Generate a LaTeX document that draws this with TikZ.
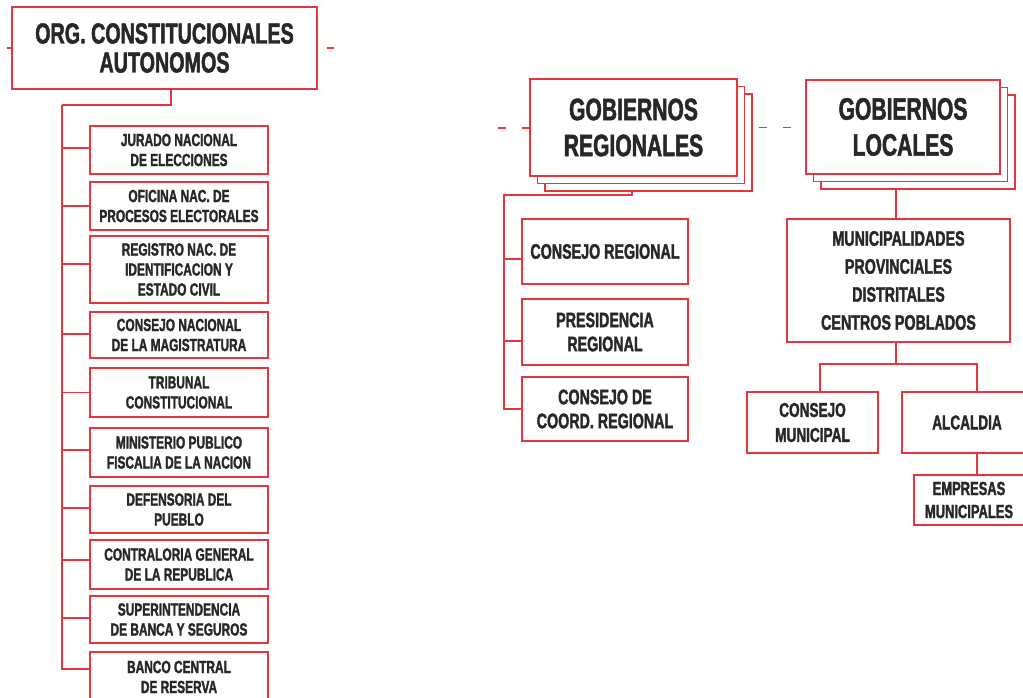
\documentclass[tikz,border=0pt]{standalone}
\usepackage{fontspec}
\newfontfamily\cond{Liberation Sans}[FakeStretch=0.68,FakeBold=1.6]
\usetikzlibrary{calc,shadows,backgrounds}
\definecolor{ored}{RGB}{232,52,60}
\definecolor{otxt}{RGB}{40,38,38}
\begin{document}
\begin{tikzpicture}[x=1pt,y=-1pt,line width=1.5pt,
  box/.style={draw=ored,fill=white,inner sep=0pt,align=center,text=otxt},
  ln/.style={draw=ored,line width=1.5pt},
  stack/.style={double copy shadow={shadow xshift=7.5pt,shadow yshift=-7.5pt}},
  fmain/.style={font=\cond\bfseries\fontsize{29}{29}\selectfont},
  fgob/.style={font=\cond\bfseries\fontsize{31}{36}\selectfont},
  fleft/.style={font=\cond\bfseries\fontsize{17.5}{20}\selectfont},
  freg/.style={font=\cond\bfseries\fontsize{21}{24}\selectfont},
  fmun/.style={font=\cond\bfseries\fontsize{21}{28}\selectfont},
  fsub/.style={font=\cond\bfseries\fontsize{20}{25}\selectfont},
  femp/.style={font=\cond\bfseries\fontsize{19}{23}\selectfont},
  lbox/.style={box,fleft,minimum width=178pt}]
\useasboundingbox (0,0) rectangle (1023,697);
\clip (0,0) rectangle (1023,697);

% ---------- left column ----------
\node[box,fmain,minimum width=305pt,minimum height=82pt] (org) at (164.5,48) {ORG. CONSTITUCIONALES\\AUTONOMOS};
\node[lbox,minimum height=48pt] (b1) at (179,150) {JURADO NACIONAL\\DE ELECCIONES};
\node[lbox,minimum height=48pt] (b2) at (179,206) {OFICINA NAC. DE\\PROCESOS ELECTORALES};
\node[lbox,minimum height=67pt] (b3) at (179,269.5) {REGISTRO NAC. DE\\IDENTIFICACION Y\\ESTADO CIVIL};
\node[lbox,minimum height=46pt] (b4) at (179,335) {CONSEJO NACIONAL\\DE LA MAGISTRATURA};
\node[lbox,minimum height=49pt] (b5) at (179,392.5) {TRIBUNAL\\CONSTITUCIONAL};
\node[lbox,minimum height=49pt] (b6) at (179,452.5) {MINISTERIO PUBLICO\\FISCALIA DE LA NACION};
\node[lbox,minimum height=47pt] (b7) at (179,509.5) {DEFENSORIA DEL\\PUEBLO};
\node[lbox,minimum height=49pt] (b8) at (179,564.5) {CONTRALORIA GENERAL\\DE LA REPUBLICA};
\node[lbox,minimum height=47pt] (b9) at (179,619.5) {SUPERINTENDENCIA\\DE BANCA Y SEGUROS};
\node[lbox,minimum height=50pt] (b10) at (179,677) {BANCO CENTRAL\\DE RESERVA};

\coordinate (sp) at (62,105);
\draw[ln] ($(org.south)+(6.5,0)$) |- (sp);
\coordinate (t10) at ($(b10.west)+(0,-8)$);
\draw[ln] (sp) -- (sp |- t10) -- (t10);
\foreach \i/\o in {1/-2,2/0,3/-5.5,4/-1,5/0,6/-2.5,7/-1.5,8/-4.5,9/-1.5}{
  \coordinate (t\i) at ($(b\i.west)+(0,\o)$);
  \draw[ln] (sp |- t\i) -- (t\i);
}

% ---------- regional ----------
\node[box,fgob,stack,minimum width=207pt,minimum height=97pt] (gr) at (633.5,127.5) {GOBIERNOS\\REGIONALES};
\node[box,freg,minimum width=166pt,minimum height=65pt] (r1) at (605,251.5) {CONSEJO REGIONAL};
\node[box,freg,minimum width=166pt,minimum height=66pt] (r2) at (605,332) {PRESIDENCIA\\REGIONAL};
\node[box,freg,minimum width=166pt,minimum height=64pt] (r3) at (605,409) {CONSEJO DE\\COORD. REGIONAL};

\coordinate (rs) at (504,195);
\draw[ln] ($(gr.south)+(-1.5,15)$) |- (rs) -- (rs |- r3.west) -- (r3.west);
\coordinate (u1) at ($(r1.west)+(0,7.5)$);
\coordinate (u2) at ($(r2.west)+(0,9)$);
\draw[ln] (rs |- u1) -- (u1);
\draw[ln] (rs |- u2) -- (u2);

% ---------- local ----------
\node[box,fgob,stack,minimum width=194pt,minimum height=94pt] (gl) at (903,127) {GOBIERNOS\\LOCALES};
\node[box,fmun,minimum width=223pt,minimum height=123pt] (mun) at (898.5,280.5) {MUNICIPALIDADES\\PROVINCIALES\\DISTRITALES\\CENTROS POBLADOS};
\node[box,fsub,minimum width=131pt,minimum height=61pt] (cm) at (812.5,422.5) {CONSEJO\\MUNICIPAL};
\node[box,fsub,minimum width=130pt,minimum height=61pt] (al) at (967,422.5) {ALCALDIA};
\node[box,femp,minimum width=110pt,minimum height=50pt] (emp) at (969,500) {EMPRESAS\\MUNICIPALES};

\coordinate (gla) at ($(gl.south)+(-7,14)$);
\draw[ln] (gla) -- (gla |- mun.north);
\coordinate (mbl) at (820,364);
\coordinate (mbr) at (977,364);
\draw[ln] (gla |- mun.south) -- (gla |- mbl);
\draw[ln] (cm.north -| mbl) -- (mbl) -- (mbr) -- (al.north -| mbr);
\draw[ln] (al.south -| mbr) -- (emp.north -| mbr);

% ---------- background: page and dashed links ----------
\begin{pgfonlayer}{background}
\fill[white] (0,0) rectangle (1023,697);
\draw[ln] (org.west) -- ++(-4,0);
\draw[ln] ([xshift=9pt]org.east) -- ++(7,0);
\coordinate (dl) at (498,128);
\draw[ln,dash pattern=on 8pt off 16pt] (dl) -- (dl -| gr.west);
\draw[ln,dash pattern=on 8pt off 16pt,dash phase=3pt] (gr.east) -- (gr.east -| gl.west);
\end{pgfonlayer}
\end{tikzpicture}
\end{document}
